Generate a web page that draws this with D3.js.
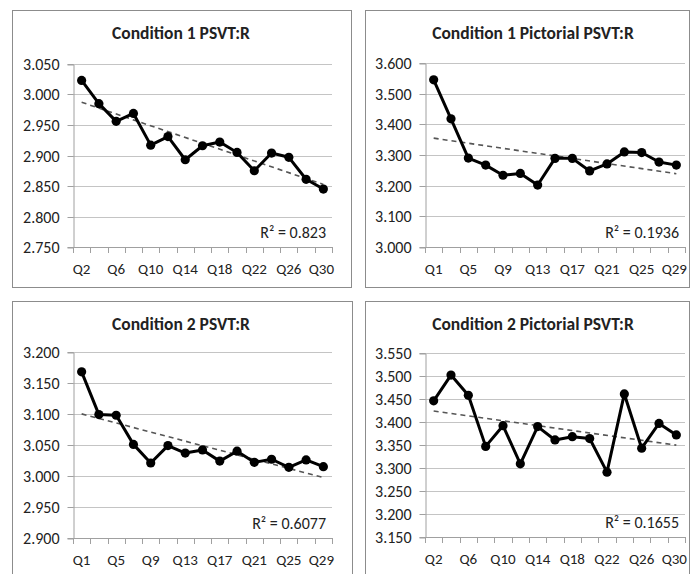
<!DOCTYPE html>
<html><head><meta charset="utf-8">
<script src="https://cdn.jsdelivr.net/npm/d3@7"></script>
<style>body{margin:0;background:#fff}svg{display:block}</style>
</head><body>
<svg id="c" width="692" height="574"></svg>
<script>
// ---- data ----
const evenQ = ["Q2","Q4","Q6","Q8","Q10","Q12","Q14","Q16","Q18","Q20","Q22","Q24","Q26","Q28","Q30"];
const oddQ  = ["Q1","Q3","Q5","Q7","Q9","Q11","Q13","Q15","Q17","Q19","Q21","Q23","Q25","Q27","Q29"];

const cond1Values     = [3.023, 2.985, 2.956, 2.969, 2.917, 2.931, 2.893, 2.916, 2.922, 2.905, 2.875, 2.904, 2.897, 2.861, 2.845];
const cond1PictValues = [3.545, 3.418, 3.290, 3.267, 3.234, 3.240, 3.202, 3.289, 3.289, 3.248, 3.271, 3.310, 3.308, 3.277, 3.267];
const cond2Values     = [3.168, 3.099, 3.098, 3.051, 3.021, 3.049, 3.037, 3.042, 3.024, 3.040, 3.022, 3.027, 3.014, 3.026, 3.015];
const cond2PictValues = [3.446, 3.502, 3.458, 3.347, 3.392, 3.309, 3.390, 3.361, 3.368, 3.364, 3.291, 3.461, 3.343, 3.397, 3.372];

const cond1Ticks     = [2.75, 2.80, 2.85, 2.90, 2.95, 3.00, 3.05];
const cond1PictTicks = [3.0, 3.1, 3.2, 3.3, 3.4, 3.5, 3.6];
const cond2Ticks     = [2.90, 2.95, 3.00, 3.05, 3.10, 3.15, 3.20];
const cond2PictTicks = [3.15, 3.20, 3.25, 3.30, 3.35, 3.40, 3.45, 3.50, 3.55];

const titles   = ["Condition 1 PSVT:R", "Condition 1 Pictorial PSVT:R", "Condition 2 PSVT:R", "Condition 2 Pictorial PSVT:R"];
const r2Labels = ["R\u00B2 = 0.823", "R\u00B2 = 0.1936", "R\u00B2 = 0.6077", "R\u00B2 = 0.1655"];

// ---- layout ----
const layouts = [
  {box:[12,10,339,277],  plot:{l:73,r:332,t:64,b:247},  titleX:181, titleY:39},
  {box:[365,10,324,277], plot:{l:425,r:685,t:63,b:247}, titleX:533, titleY:39},
  {box:[12,301,340,300], plot:{l:73,r:332,t:352,b:538}, titleX:181, titleY:330},
  {box:[365,301,324,300],plot:{l:425,r:685,t:353,b:537},titleX:533, titleY:330}
];
const panels = [
  {cats:evenQ, values:cond1Values,     ticks:cond1Ticks},
  {cats:oddQ,  values:cond1PictValues, ticks:cond1PictTicks},
  {cats:oddQ,  values:cond2Values,     ticks:cond2Ticks},
  {cats:evenQ, values:cond2PictValues, ticks:cond2PictTicks}
];

const FONT = "Carlito, Calibri, Lato, 'Liberation Sans', sans-serif";
const svg = d3.select("#c");

panels.forEach((p, k) => {
  const L = layouts[k], P = L.plot;
  const g = svg.append("g");
  g.append("rect").attr("x", L.box[0]+0.5).attr("y", L.box[1]+0.5)
    .attr("width", L.box[2]).attr("height", L.box[3])
    .attr("fill", "#fff").attr("stroke", "#8c8c8c").attr("stroke-width", 1);

  g.append("text").attr("x", L.titleX).attr("y", L.titleY)
    .attr("text-anchor", "middle").attr("font-family", FONT)
    .attr("font-weight", "bold").attr("font-size", 17.5).attr("fill", "#222")
    .text(titles[k]);

  const x = d3.scaleBand().domain(p.cats).range([P.l, P.r]).padding(0);
  const y = d3.scaleLinear().domain(d3.extent(p.ticks)).range([P.b, P.t]);
  const cx = c => x(c) + x.bandwidth()/2;

  p.ticks.slice(1).forEach(t => {
    g.append("line").attr("x1", P.l).attr("x2", P.r)
      .attr("y1", Math.round(y(t))+0.5).attr("y2", Math.round(y(t))+0.5)
      .attr("stroke", "#c4c4c4").attr("stroke-width", 1);
  });
  const yAxis = d3.axisLeft(y).tickValues(p.ticks).tickSize(6).tickPadding(8)
    .tickFormat(d3.format(".3f"));
  const ya = g.append("g").attr("transform", `translate(${P.l+0.5},0.5)`).call(yAxis);
  ya.select(".domain").attr("stroke", "#a0a0a0");
  ya.selectAll(".tick line").attr("stroke", "#a0a0a0");
  ya.selectAll(".tick text").attr("font-family", FONT).attr("font-size", 16).attr("fill", "#222");
  ya.selectAll(".tick").attr("transform", d => `translate(0,${Math.round(y(d))})`);

  g.append("line").attr("x1", P.l).attr("x2", P.r)
    .attr("y1", Math.round(P.b)+0.5).attr("y2", Math.round(P.b)+0.5)
    .attr("stroke", "#a0a0a0");
  const bounds = p.cats.map(c => x(c)).concat([P.r]);
  bounds.forEach(b => {
    g.append("line").attr("x1", Math.round(b)+0.5).attr("x2", Math.round(b)+0.5)
      .attr("y1", P.b).attr("y2", P.b+6).attr("stroke", "#a0a0a0");
  });
  p.cats.forEach((c, i) => {
    if (i % 2 === 0) {
      g.append("text").attr("x", cx(c) - (i === p.cats.length-1 ? 2 : 0)).attr("y", P.b + 27)
        .attr("text-anchor", "middle").attr("font-family", FONT)
        .attr("font-size", 15).attr("fill", "#222").text(c);
    }
  });

  // trend line (least squares fit of the data)
  const n = p.values.length;
  const idx = d3.range(n);
  const mx = d3.mean(idx), my = d3.mean(p.values);
  const slope = d3.sum(idx, i => (i-mx)*(p.values[i]-my)) / d3.sum(idx, i => (i-mx)*(i-mx));
  const icpt = my - slope*mx;
  g.append("line")
    .attr("x1", cx(p.cats[0])).attr("y1", y(icpt))
    .attr("x2", cx(p.cats[n-1])).attr("y2", y(icpt + slope*(n-1)))
    .attr("stroke", "#555").attr("stroke-width", 1.6).attr("stroke-dasharray", "5,4");

  const line = d3.line().x((d, i) => cx(p.cats[i])).y(d => y(d));
  g.append("path").datum(p.values).attr("d", line)
    .attr("fill", "none").attr("stroke", "#000").attr("stroke-width", 3)
    .attr("stroke-linejoin", "round");
  g.selectAll("circle.pt").data(p.values).enter().append("circle")
    .attr("class", "pt").attr("cx", (d, i) => cx(p.cats[i])).attr("cy", d => y(d))
    .attr("r", 4.6).attr("fill", "#000");

  g.append("text").attr("x", P.r - 6).attr("y", P.b - 9)
    .attr("text-anchor", "end").attr("font-family", FONT)
    .attr("font-size", 16).attr("fill", "#222").text(r2Labels[k]);
});
</script>
</body></html>
